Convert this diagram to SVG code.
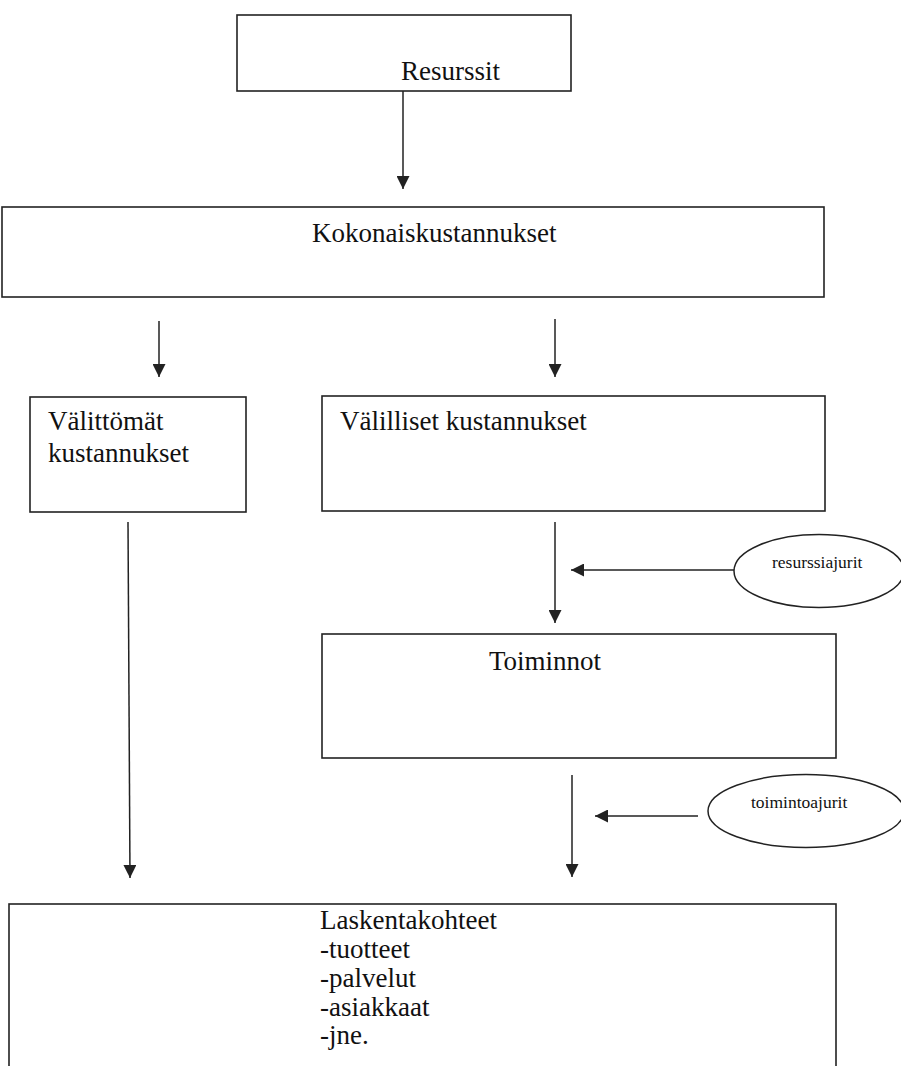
<svg xmlns="http://www.w3.org/2000/svg" width="901" height="1066" viewBox="0 0 901 1066">
<style>
.box{fill:#fff;stroke:#222;stroke-width:1.6}
.ell{fill:#fff;stroke:#222;stroke-width:1.5}
.t{font-family:"Liberation Serif","Times New Roman",serif;font-size:27px;fill:#111}
.s{font-family:"Liberation Serif","Times New Roman",serif;font-size:17.5px;fill:#111}
.c{stroke:#222;stroke-width:1.5;fill:none;marker-end:url(#ah)}
</style>
<defs>
<marker id="ah" viewBox="0 0 10 10" refX="10" refY="5" markerWidth="13" markerHeight="13" markerUnits="userSpaceOnUse" orient="auto">
<path d="M0,0 L10,5 L0,10 z" fill="#222"/>
</marker>
</defs>
<rect width="901" height="1066" fill="#fff"/>
<g id="connectors">
<line class="c" x1="403" y1="91" x2="403" y2="189"/>
<line class="c" x1="159" y1="321" x2="159" y2="377"/>
<line class="c" x1="555" y1="319" x2="555" y2="377"/>
<line class="c" x1="555" y1="522" x2="555" y2="623"/>
<line class="c" x1="734" y1="570" x2="571" y2="570"/>
<line class="c" x1="572" y1="775" x2="572" y2="877"/>
<line class="c" x1="698" y1="816" x2="595" y2="816"/>
<line class="c" x1="128" y1="522" x2="130" y2="878"/>
</g>
<g id="resurssit">
<rect class="box" x="237" y="15" width="334" height="76"/>
<text class="t" x="401" y="80">Resurssit</text>
</g>
<g id="kokonaiskustannukset">
<rect class="box" x="2" y="207" width="822" height="90"/>
<text class="t" x="312" y="242">Kokonaiskustannukset</text>
</g>
<g id="valittomat">
<rect class="box" x="30" y="397" width="216" height="115"/>
<text class="t" x="48" y="430">Välittömät</text>
<text class="t" x="48" y="462">kustannukset</text>
</g>
<g id="valilliset">
<rect class="box" x="322" y="396" width="503" height="115"/>
<text class="t" x="340" y="430">Välilliset kustannukset</text>
</g>
<g id="resurssiajurit">
<ellipse class="ell" cx="819" cy="571" rx="85" ry="36.5"/>
<text class="s" x="772" y="568">resurssiajurit</text>
</g>
<g id="toiminnot">
<rect class="box" x="322" y="634" width="514" height="124"/>
<text class="t" x="489" y="670">Toiminnot</text>
</g>
<g id="toimintoajurit">
<ellipse class="ell" cx="806" cy="811" rx="98" ry="36.5"/>
<text class="s" x="751" y="808">toimintoajurit</text>
</g>
<g id="laskentakohteet">
<rect class="box" x="9" y="904" width="827" height="180"/>
<text class="t" x="320" y="929">Laskentakohteet</text>
<text class="t" x="320" y="958">-tuotteet</text>
<text class="t" x="320" y="987">-palvelut</text>
<text class="t" x="320" y="1016">-asiakkaat</text>
<text class="t" x="320" y="1044">-jne.</text>
</g>
</svg>
